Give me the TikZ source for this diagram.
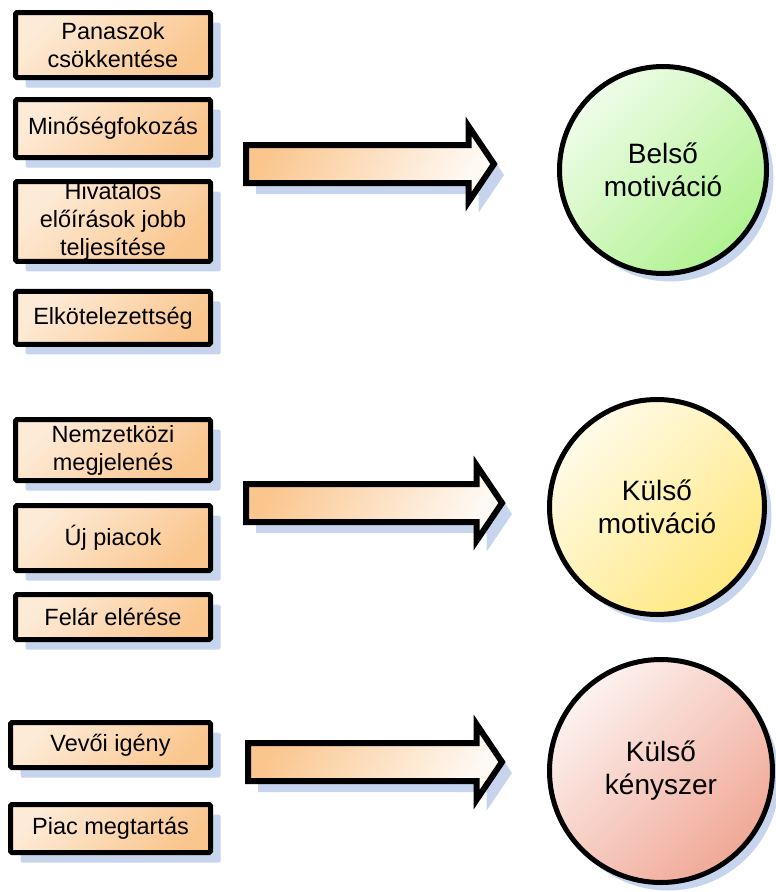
\documentclass[tikz,border=0pt]{standalone}
\usepackage{fontspec}
\setmainfont{Liberation Sans}
\usetikzlibrary{positioning,shadows,shapes.arrows}

\definecolor{peach}{RGB}{250,198,142}
\definecolor{shadowblue}{RGB}{198,212,238}
\definecolor{belsogreen}{RGB}{176,242,144}
\definecolor{kulsoyellow}{RGB}{255,232,128}
\definecolor{kenyszerred}{RGB}{240,168,150}

\tikzset{
  reason/.style={draw, line width=5pt, rounded corners=1.5pt, minimum width=195pt, inner sep=1pt,
    align=center, font=\fontsize{23.5}{28}\selectfont,
    left color=white!65!peach, right color=peach, shading angle=45,
    drop shadow={shadow xshift=10pt, shadow yshift=-10pt, fill=shadowblue, opacity=1}},
  motive/.style={circle, draw, line width=5pt, align=center, font=\fontsize{28}{33}\selectfont,
    drop shadow={shadow xshift=7pt, shadow yshift=-8pt, fill=shadowblue, opacity=1}},
  bigarrow/.style={single arrow, draw, line width=6pt, anchor=tail, inner xsep=0pt, inner ysep=16pt,
    minimum height=248pt, minimum width=69pt, single arrow head extend=18.5pt, single arrow tip angle=112,
    left color=peach, right color=white!90!peach, shading angle=60,
    drop shadow={shadow xshift=10pt, shadow yshift=-11pt, fill=shadowblue, opacity=1}}
}

\begin{document}
\begin{tikzpicture}[x=1pt,y=-1pt]
  \useasboundingbox (0,0) rectangle (776,892);

  % belso okok
  \node[reason, minimum height=65pt] (panasz) at (113,45) {Panaszok\\csökkentése};
  \node[reason, minimum height=58pt, below=17pt of panasz] (minoseg) {Minőségfokozás};
  \node[reason, minimum height=78pt, below=19pt of minoseg] (hivatalos) {Hivatalos\\előírások jobb\\teljesítése};
  \node[reason, minimum height=53pt, below=25pt of hivatalos] (elkot) {Elkötelezettség};

  % kulso okok
  \node[reason, minimum height=61pt] (nemzet) at (113,450) {Nemzetközi\\megjelenés};
  \node[reason, minimum height=65pt, below=20pt of nemzet] (ujpiac) {Új piacok};
  \node[reason, minimum height=45pt, below=19pt of ujpiac] (felar) {Felár elérése};

  % kenyszer
  \node[reason, minimum width=200pt, minimum height=45pt] (vevo) at (110.5,745) {Vevői igény};
  \node[reason, minimum width=200pt, minimum height=48pt, below=32pt of vevo] (piac) {Piac megtartás};

  % nyilak
  \node[bigarrow] (arr1) at (243,164) {};
  \node[bigarrow, minimum height=256pt] (arr2) at (243,503) {};
  \node[bigarrow, minimum height=254pt] (arr3) at (245,762) {};

  % motivaciok
  \node[motive, minimum size=207pt, left color=white!80!belsogreen, right color=belsogreen, shading angle=45] (belso) at (663,170) {Belső\\motiváció};
  \node[motive, minimum size=215pt, left color=white!82!kulsoyellow, right color=kulsoyellow, shading angle=45] (kulso) at (657,507) {Külső\\motiváció};
  \node[motive, minimum size=223pt, left color=white!85!kenyszerred, right color=kenyszerred, shading angle=45] (kenyszer) at (661,771) {Külső\\kényszer};
\end{tikzpicture}
\end{document}
